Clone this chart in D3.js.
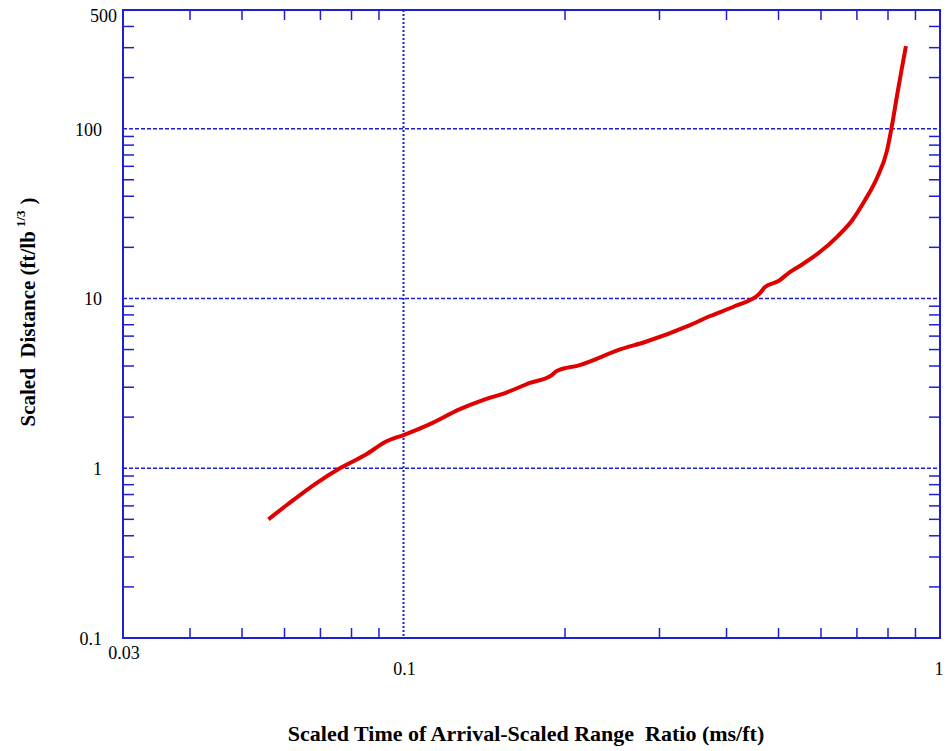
<!DOCTYPE html>
<html>
<head>
<meta charset="utf-8">
<script src="https://cdn.jsdelivr.net/npm/d3@7"></script>
<style>
  body { margin: 0; background: #fff; }
  text { font-family: "Liberation Serif", "Times New Roman", serif; fill: #000; }
</style>
</head>
<body>
<div class="chart"></div>
<script>
const width = 947;
const height = 751;

// curve
const timeRatio = [0.056, 0.0606, 0.0684, 0.0761, 0.0848, 0.0932, 0.1, 0.112, 0.1274, 0.1406,
  0.1546, 0.172, 0.189, 0.193, 0.213, 0.255, 0.282, 0.342, 0.373, 0.415, 0.462, 0.472, 0.5,
  0.525, 0.555, 0.597, 0.645, 0.686, 0.725, 0.763, 0.797, 0.814, 0.832, 0.849, 0.864];
const scaledDistance = [0.5, 0.607, 0.807, 1.0, 1.196, 1.446, 1.569, 1.82, 2.23, 2.52,
  2.77, 3.18, 3.54, 3.74, 4.05, 5.04, 5.54, 6.97, 7.88, 9.02, 10.76, 11.67, 12.66,
  14.3, 15.95, 18.76, 23.3, 28.9, 38.0, 51.2, 74.8, 105, 158, 227, 306];

const xTickValues = [0.03, 0.1, 1];
const xTickLabels = ["0.03", "0.1", "1"];
const xMinorTicks = [0.04, 0.05, 0.06, 0.07, 0.08, 0.09, 0.2, 0.3, 0.4, 0.5, 0.6, 0.7, 0.8, 0.9];
const xGridValues = [0.1];

const yTickValues = [0.1, 1, 10, 100, 500];
const yTickLabels = ["0.1", "1", "10", "100", "500"];
const yMinorTicks = [0.2, 0.3, 0.4, 0.5, 0.6, 0.7, 0.8, 0.9, 2, 3, 4, 5, 6, 7, 8, 9,
  20, 30, 40, 50, 60, 70, 80, 90, 200, 300, 400];
const yGridValues = [1, 10, 100];

const margin = {top: 10, right: 7, bottom: 113, left: 123};
const blue = "#1e1ed2";

const svg = d3.select(".chart").append("svg").attr("width", width).attr("height", height);

const x = d3.scaleLog()
    .domain([0.03, 1])
    .range([margin.left, width - margin.right]);

const y = d3.scaleLog()
    .domain([0.1, 500])
    .range([height - margin.bottom, margin.top]);

const x0 = x.range()[0], x1 = x.range()[1];
const y0 = y.range()[0], y1 = y.range()[1];

// grid
svg.selectAll(".hgrid")
  .data(yGridValues)
  .enter()
    .append("line")
    .attr("x1", x0).attr("x2", x1)
    .attr("y1", d => y(d)).attr("y2", d => y(d))
    .attr("stroke", blue).attr("stroke-width", 1.5)
    .attr("stroke-dasharray", "4,2");

svg.selectAll(".vgrid")
  .data(xGridValues)
  .enter()
    .append("line")
    .attr("x1", d => x(d)).attr("x2", d => x(d))
    .attr("y1", y1).attr("y2", y0)
    .attr("stroke", blue).attr("stroke-width", 2)
    .attr("stroke-dasharray", "2,2");

// minor ticks, inside on all four sides
const tickLen = 10;
const yTickLen = 11;
xMinorTicks.forEach(v => {
  svg.append("line").attr("x1", x(v)).attr("x2", x(v)).attr("y1", y0).attr("y2", y0 - tickLen)
    .attr("stroke", blue).attr("stroke-width", 1.5);
  svg.append("line").attr("x1", x(v)).attr("x2", x(v)).attr("y1", y1).attr("y2", y1 + tickLen)
    .attr("stroke", blue).attr("stroke-width", 1.5);
});
yMinorTicks.forEach(v => {
  svg.append("line").attr("x1", x0).attr("x2", x0 + yTickLen).attr("y1", y(v)).attr("y2", y(v))
    .attr("stroke", blue).attr("stroke-width", 1.5);
  svg.append("line").attr("x1", x1).attr("x2", x1 - yTickLen).attr("y1", y(v)).attr("y2", y(v))
    .attr("stroke", blue).attr("stroke-width", 1.5);
});

// frame
svg.append("rect")
  .attr("x", x0).attr("y", y1)
  .attr("width", x1 - x0).attr("height", y0 - y1)
  .attr("fill", "none")
  .attr("stroke", blue).attr("stroke-width", 2);

// tick labels
svg.selectAll(".xlab")
  .data(xTickValues)
  .enter()
    .append("text")
    .attr("x", d => x(d) + (d === 1 ? -1 : 1))
    .attr("y", (d, i) => i === 0 ? y0 + 21 : y0 + 37)
    .attr("text-anchor", "middle")
    .style("font-size", "18px")
    .text((d, i) => xTickLabels[i]);

svg.selectAll(".ylab")
  .data(yTickValues)
  .enter()
    .append("text")
    .attr("x", d => d === 500 ? x0 - 6 : x0 - 21)
    .attr("y", d => d === 500 ? y(d) + 12 : y(d) + 7)
    .attr("text-anchor", "end")
    .style("font-size", "18px")
    .text((d, i) => yTickLabels[i]);

// curve
const points = timeRatio.map((t, i) => [t, scaledDistance[i]]);
const line = d3.line()
    .curve(d3.curveMonotoneX)
    .x(d => x(d[0]))
    .y(d => y(d[1]));

svg.append("path")
  .datum(points)
  .attr("d", line)
  .attr("fill", "none")
  .attr("stroke", "#e00000")
  .attr("stroke-width", 4)
  .attr("stroke-linejoin", "round");

// axis titles
svg.append("text")
  .attr("x", 526)
  .attr("y", 741)
  .attr("text-anchor", "middle")
  .style("font-size", "22px")
  .style("font-weight", "bold")
  .text("Scaled Time of Arrival-Scaled Range\u00a0\u00a0Ratio (ms/ft)");

const yTitle = svg.append("text")
  .attr("transform", "translate(35,312) rotate(-90)")
  .attr("text-anchor", "middle")
  .style("font-size", "21px")
  .style("font-weight", "bold");
yTitle.append("tspan").text("Scaled\u00a0 Distance (ft/lb");
yTitle.append("tspan").attr("dy", -10).attr("dx", 4).style("font-size", "13px").text("1/3");
yTitle.append("tspan").attr("dy", 10).attr("dx", 6).text(")");
</script>
</body>
</html>
